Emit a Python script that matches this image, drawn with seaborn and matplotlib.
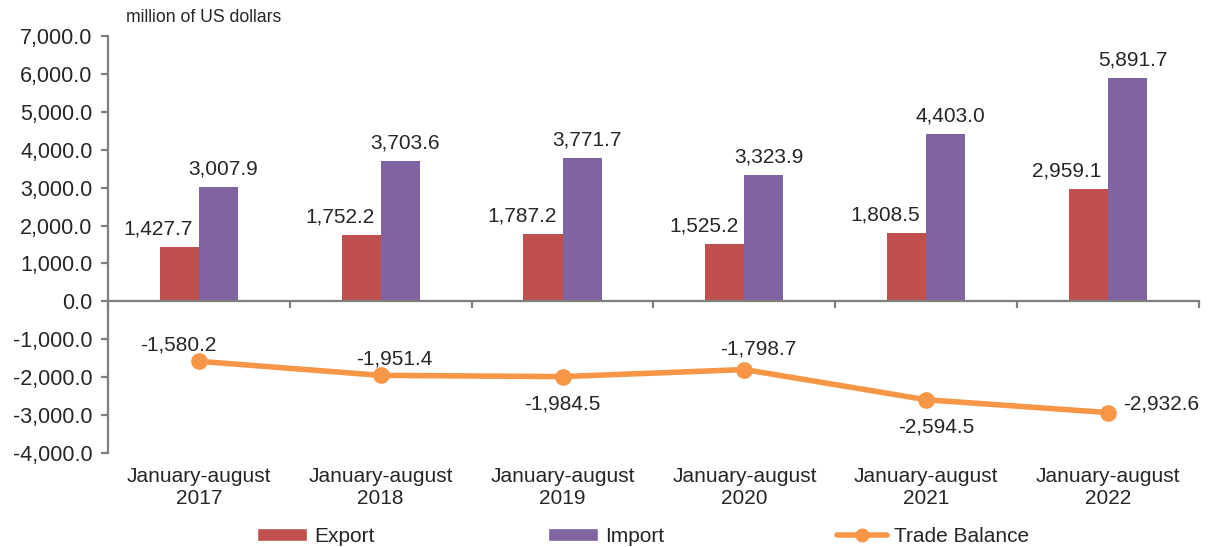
import matplotlib
matplotlib.use("Agg")
import matplotlib.pyplot as plt
import seaborn as sns
import pandas as pd
from matplotlib.patches import Patch
from matplotlib.lines import Line2D
from matplotlib.ticker import FuncFormatter

periods = ['January-august\n2017', 'January-august\n2018', 'January-august\n2019',
           'January-august\n2020', 'January-august\n2021', 'January-august\n2022']
export = [1427.7, 1752.2, 1787.2, 1525.2, 1808.5, 2959.1]
imports = [3007.9, 3703.6, 3771.7, 3323.9, 4403.0, 5891.7]
balance = [-1580.2, -1951.4, -1984.5, -1798.7, -2594.5, -2932.6]

col_exp = '#C0504D'
col_imp = '#8064A2'
col_bal = '#F79646'
grey = '#7F7F7F'

bars = pd.DataFrame({
    'period': periods * 2,
    'flow': ['Export'] * len(periods) + ['Import'] * len(periods),
    'value': export + imports,
})
tb = pd.DataFrame({'period': periods, 'balance': balance})

sns.set_style('ticks')
plt.rcParams['font.family'] = ['Liberation Sans', 'DejaVu Sans']
fs = 15

fig = plt.figure(figsize=(12.09, 5.47), dpi=100)
ax = fig.add_axes([0.0893, 0.1718, 0.9024, 0.7624])

sns.barplot(data=bars, x='period', y='value', hue='flow', order=periods,
            palette={'Export': col_exp, 'Import': col_imp}, width=0.43,
            saturation=1, legend=False, linewidth=0, edgecolor='none', ax=ax)
sns.pointplot(data=tb, x='period', y='balance', order=periods, color=col_bal,
              markers='o', markersize=9, linewidth=4, errorbar=None, ax=ax)

# bar labels
for bar, v in zip(ax.containers[0], export):
    ax.annotate(f'{v:,.1f}', xy=(bar.get_x() + bar.get_width(), bar.get_height()),
                xytext=(-4.5, 9), textcoords='offset points', ha='right',
                va='baseline', fontsize=fs, color='#262626')
for bar, v in zip(ax.containers[1], imports):
    ax.annotate(f'{v:,.1f}', xy=(bar.get_x() + bar.get_width() / 2, bar.get_height()),
                xytext=(3.5, 9), textcoords='offset points', ha='center',
                va='baseline', fontsize=fs, color='#262626')

# trade balance labels
offs = [(-15, 12, 'center'), (10, 11.5, 'center'), (0, -20, 'center'),
        (10, 14.5, 'center'), (7, -19.5, 'center'), (11, 6, 'left')]
for i, (v, (dx, dy, ha)) in enumerate(zip(balance, offs)):
    ax.annotate(f'{v:,.1f}', xy=(i, v), xytext=(dx, dy), textcoords='offset points',
                ha=ha, va='center', fontsize=fs, color='#262626')

ax.set_ylim(-4000, 7000)
ax.set_yticks(range(-4000, 7001, 1000))
ax.yaxis.set_major_formatter(FuncFormatter(lambda v, p: f'{v:,.1f}'))
ax.set_xlim(-0.5, 5.5)
ax.set_xlabel('')
ax.set_ylabel('')

for s in ['top', 'right']:
    ax.spines[s].set_visible(False)
ax.spines['bottom'].set_position(('data', 0))
for s in ['left', 'bottom']:
    ax.spines[s].set_color(grey)
    ax.spines[s].set_linewidth(1.6)

ax.set_xticks(range(len(periods)))
ax.set_xticklabels(periods, fontsize=fs, color='#262626', linespacing=1.25)
ax.set_xticks([i - 0.5 for i in range(len(periods) + 1)], minor=True)
ax.tick_params(axis='x', which='major', length=0, pad=119)
ax.tick_params(axis='x', which='minor', length=5, width=1.6, color=grey, direction='out')
ax.tick_params(axis='y', length=5, width=1.6, color=grey, labelsize=15.5,
               labelcolor='#262626', pad=6)

fig.text(126 / 1209, 1 - 18 / 547, 'million of US dollars', ha='left', va='center',
         fontsize=12.7, color='#262626')

handles = [Patch(facecolor=col_exp), Patch(facecolor=col_imp),
           Line2D([0], [0], color=col_bal, lw=4, marker='o', markersize=9)]
fig.legend(handles, ['Export', 'Import', 'Trade Balance'], loc='center',
           bbox_to_anchor=(0.532, 0.02), ncol=3, frameon=False, fontsize=fs,
           handlelength=2.4, handleheight=0.6, handletextpad=0.35, columnspacing=8.3)

fig.savefig('out.png', dpi=100)
